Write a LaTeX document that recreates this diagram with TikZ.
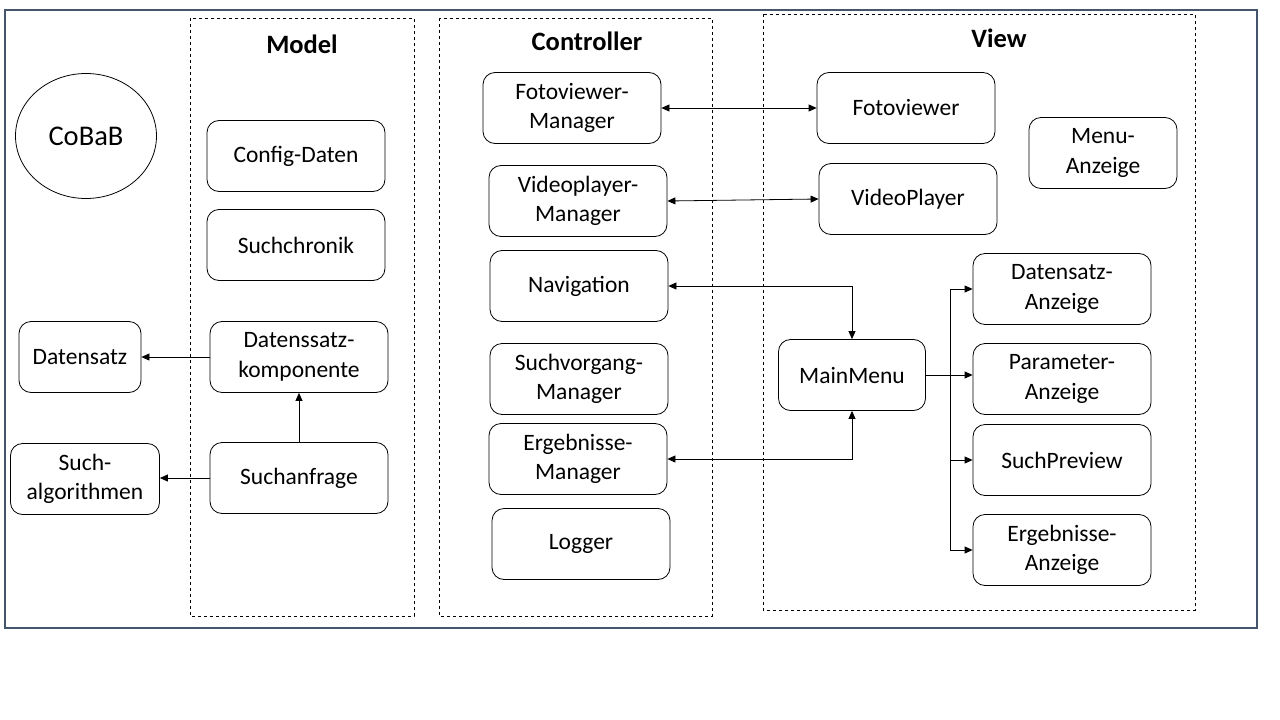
\documentclass[tikz,border=0pt]{standalone}
\usepackage{fontspec}
\setmainfont{Carlito}
\usepackage{tikz}
\usetikzlibrary{calc}
\usetikzlibrary{arrows.meta}
\usetikzlibrary{shapes.geometric}

\tikzset{
    comp/.style={draw, rounded corners=12pt, minimum width=178pt, minimum height=71pt, inner sep=2pt, align=center, font=\fontsize{23.5}{29.5}\selectfont, line width=0.8pt},
    layer/.style={draw, dashed, line width=0.8pt},
    ttl/.style={font=\fontsize{26.5}{30}\selectfont\bfseries},
    conn/.style={-{Triangle[length=8pt,width=7pt]}, line width=0.8pt},
    biconn/.style={{Triangle[length=8pt,width=7pt]}-{Triangle[length=8pt,width=7pt]}, line width=0.8pt}
}

\begin{document}
\begin{tikzpicture}[x=1pt,y=-1pt]
        \useasboundingbox (0,0) rectangle (1280,720);
        \fill[white] (0,0) rectangle (1280,720);
        \draw[color={rgb,255:red,68;green,84;blue,106}, line width=2pt] (5,10) rectangle (1257,628);

        % layers
        \draw[layer] (190,18) rectangle (414,616);
        \draw[layer] (439,18) rectangle (712,616);
        \draw[layer] (763,14) rectangle (1195,610);
        \node[ttl] (modeltitle) at (302,44) {Model};
        \node[ttl] (controllertitle) at (587,41) {Controller};
        \node[ttl] (viewtitle) at (999,38) {View};

        \node[draw, ellipse, minimum width=141pt, minimum height=125pt, line width=0.8pt, font=\fontsize{28.5}{32}\selectfont] (cobab) at (86,136) {CoBaB};

        % model
        \node[comp] (config) at (296,156) {Config-Daten};
        \node[comp] (chronik) at (296,245) {Suchchronik};
        \node[comp] (dskomp) at (299,357) {Datenssatz-\\komponente};
        \node[comp] (anfrage) at (299,478) {Suchanfrage};
        \node[comp, minimum width=122pt] (datensatz) at (80,357) {Datensatz};
        \node[comp, minimum width=149pt] (algo) at (85,479) {Such-\\algorithmen};

        % controller
        \node[comp] (fotoman) at (572,108) {Fotoviewer-\\Manager};
        \node[comp] (videoman) at (578,201) {Videoplayer-\\Manager};
        \node[comp] (navi) at (579,286) {Navigation};
        \node[comp] (suchman) at (579,379) {Suchvorgang-\\Manager};
        \node[comp] (ergman) at (578,459) {Ergebnisse-\\Manager};
        \node[comp] (logger) at (581,544) {Logger};

        % view
        \node[comp] (foto) at (906,108) {Fotoviewer};
        \node[comp] (video) at (908,199) {VideoPlayer};
        \node[comp, minimum width=148pt] (menuanz) at (1103,153) {Menu-\\Anzeige};
        \node[comp, minimum width=147pt] (mainmenu) at (852,375) {MainMenu};
        \node[comp] (dsanz) at (1062,289) {Datensatz-\\Anzeige};
        \node[comp] (paranz) at (1062,379) {Parameter-\\Anzeige};
        \node[comp] (preview) at (1062,460) {SuchPreview};
        \node[comp] (erganz) at (1062,550) {Ergebnisse-\\Anzeige};

        % connections
        \draw[conn] (dskomp) -- (datensatz);
        \draw[conn] (anfrage.west) -- (algo.east |- anfrage.west);
        \draw[conn] (anfrage) -- (dskomp);
        \draw[biconn] (fotoman) -- (foto);
        \draw[biconn] (videoman.east) -- (video.west);
        \draw[biconn] (navi.east) -| (mainmenu.north);
        \draw[biconn] (ergman.east) -| (mainmenu.south);

        \coordinate (bus) at (950,375);
        \draw[line width=0.8pt] (mainmenu.east) -- (bus);
        \draw[conn] (bus) |- (dsanz.west);
        \draw[conn] (bus) -- (paranz.west |- bus);
        \draw[conn] (bus) |- (preview.west);
        \draw[conn] (bus) |- (erganz.west);
    \end{tikzpicture}
\end{document}
